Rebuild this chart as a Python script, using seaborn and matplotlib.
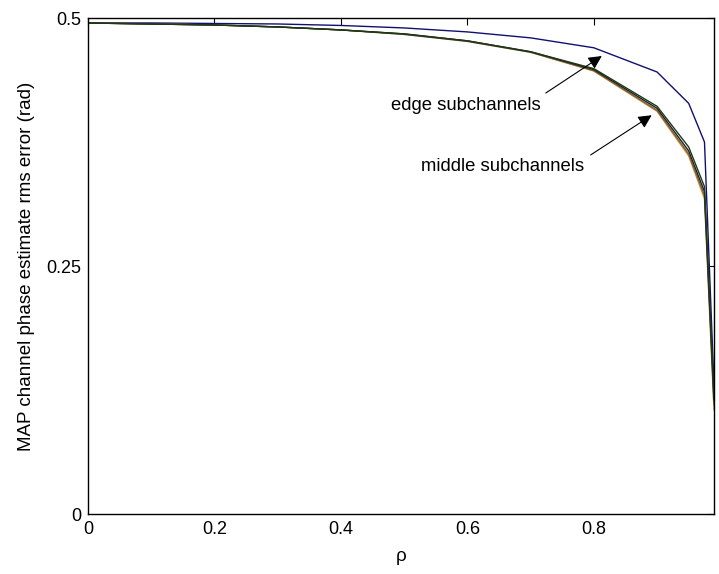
import matplotlib
matplotlib.use("Agg")
import matplotlib.pyplot as plt
import seaborn as sns
import pandas as pd

rho = [0.0, 0.1, 0.2, 0.3, 0.4, 0.5, 0.6, 0.7, 0.8, 0.9, 0.95, 0.975, 0.99]
edge = [0.495, 0.495, 0.4945, 0.494, 0.4925, 0.490, 0.486, 0.480, 0.470, 0.4456, 0.414, 0.375, 0.13]
mid_green = [0.495, 0.494, 0.493, 0.491, 0.488, 0.484, 0.477, 0.466, 0.449, 0.411, 0.370, 0.330, 0.12]
mid_black = [0.495, 0.494, 0.493, 0.491, 0.488, 0.484, 0.477, 0.466, 0.448, 0.409, 0.366, 0.325, 0.115]
mid_brown = [0.495, 0.494, 0.493, 0.491, 0.488, 0.4835, 0.4765, 0.4655, 0.447, 0.407, 0.363, 0.321, 0.11]
mid_orange = [0.495, 0.494, 0.493, 0.491, 0.488, 0.4835, 0.4765, 0.4655, 0.4465, 0.406, 0.361, 0.318, 0.105]

series = {
    "edge": edge,
    "mid_orange": mid_orange,
    "mid_brown": mid_brown,
    "mid_black": mid_black,
    "mid_green": mid_green,
}
colors = {
    "edge": "#101070",
    "mid_orange": "#c89020",
    "mid_brown": "#7a5a48",
    "mid_black": "#202020",
    "mid_green": "#1c3a1c",
}

rows = []
for name, vals in series.items():
    for x, y in zip(rho, vals):
        rows.append({"rho": x, "err": y, "curve": name})
df = pd.DataFrame(rows)

sns.set_style("white")
plt.rcParams['font.family'] = ['Liberation Sans', 'DejaVu Sans']
plt.rcParams['text.color'] = 'black'
plt.rcParams['axes.labelcolor'] = 'black'

fig = plt.figure(figsize=(7.19, 5.74), dpi=100)
ax = fig.add_axes([0.1224, 0.1045, 0.993 - 0.1224, 0.9686 - 0.1045])

sns.lineplot(data=df, x="rho", y="err", hue="curve", palette=colors,
             linewidth=1.0, legend=False, ax=ax, sort=False, estimator=None)

ax.set_xlim(0, 0.99)
ax.set_ylim(0, 0.5)
ax.set_xticks([0, 0.2, 0.4, 0.6, 0.8])
ax.set_xticklabels(["0", "0.2", "0.4", "0.6", "0.8"])
ax.set_yticks([0, 0.25, 0.5])
ax.set_yticklabels(["0", "0.25", "0.5"])
ax.tick_params(direction="in", top=True, right=True, length=5, width=0.8,
               labelsize=13, colors="black", pad=5)
for s in ax.spines.values():
    s.set_color("black")
    s.set_linewidth(1.0)

ax.set_xlabel("ρ", fontsize=13.5, labelpad=7, color="black")
ax.set_ylabel("MAP channel phase estimate rms error (rad)", fontsize=13.5, labelpad=8, color="black")

ax.text(0.598, 0.4123, "edge subchannels", fontsize=13.3, ha="center", va="center", color="black")
ax.text(0.655, 0.350, "middle subchannels", fontsize=13.3, ha="center", va="center", color="black")
ax.annotate("", xy=(0.8126, 0.4617), xytext=(0.724, 0.4244),
            arrowprops=dict(arrowstyle="-|>", color="black", lw=0.8,
                            mutation_scale=20, shrinkA=0, shrinkB=0))
ax.annotate("", xy=(0.8915, 0.402), xytext=(0.795, 0.362),
            arrowprops=dict(arrowstyle="-|>", color="black", lw=0.8,
                            mutation_scale=20, shrinkA=0, shrinkB=0))

fig.savefig("out.png", dpi=100)
